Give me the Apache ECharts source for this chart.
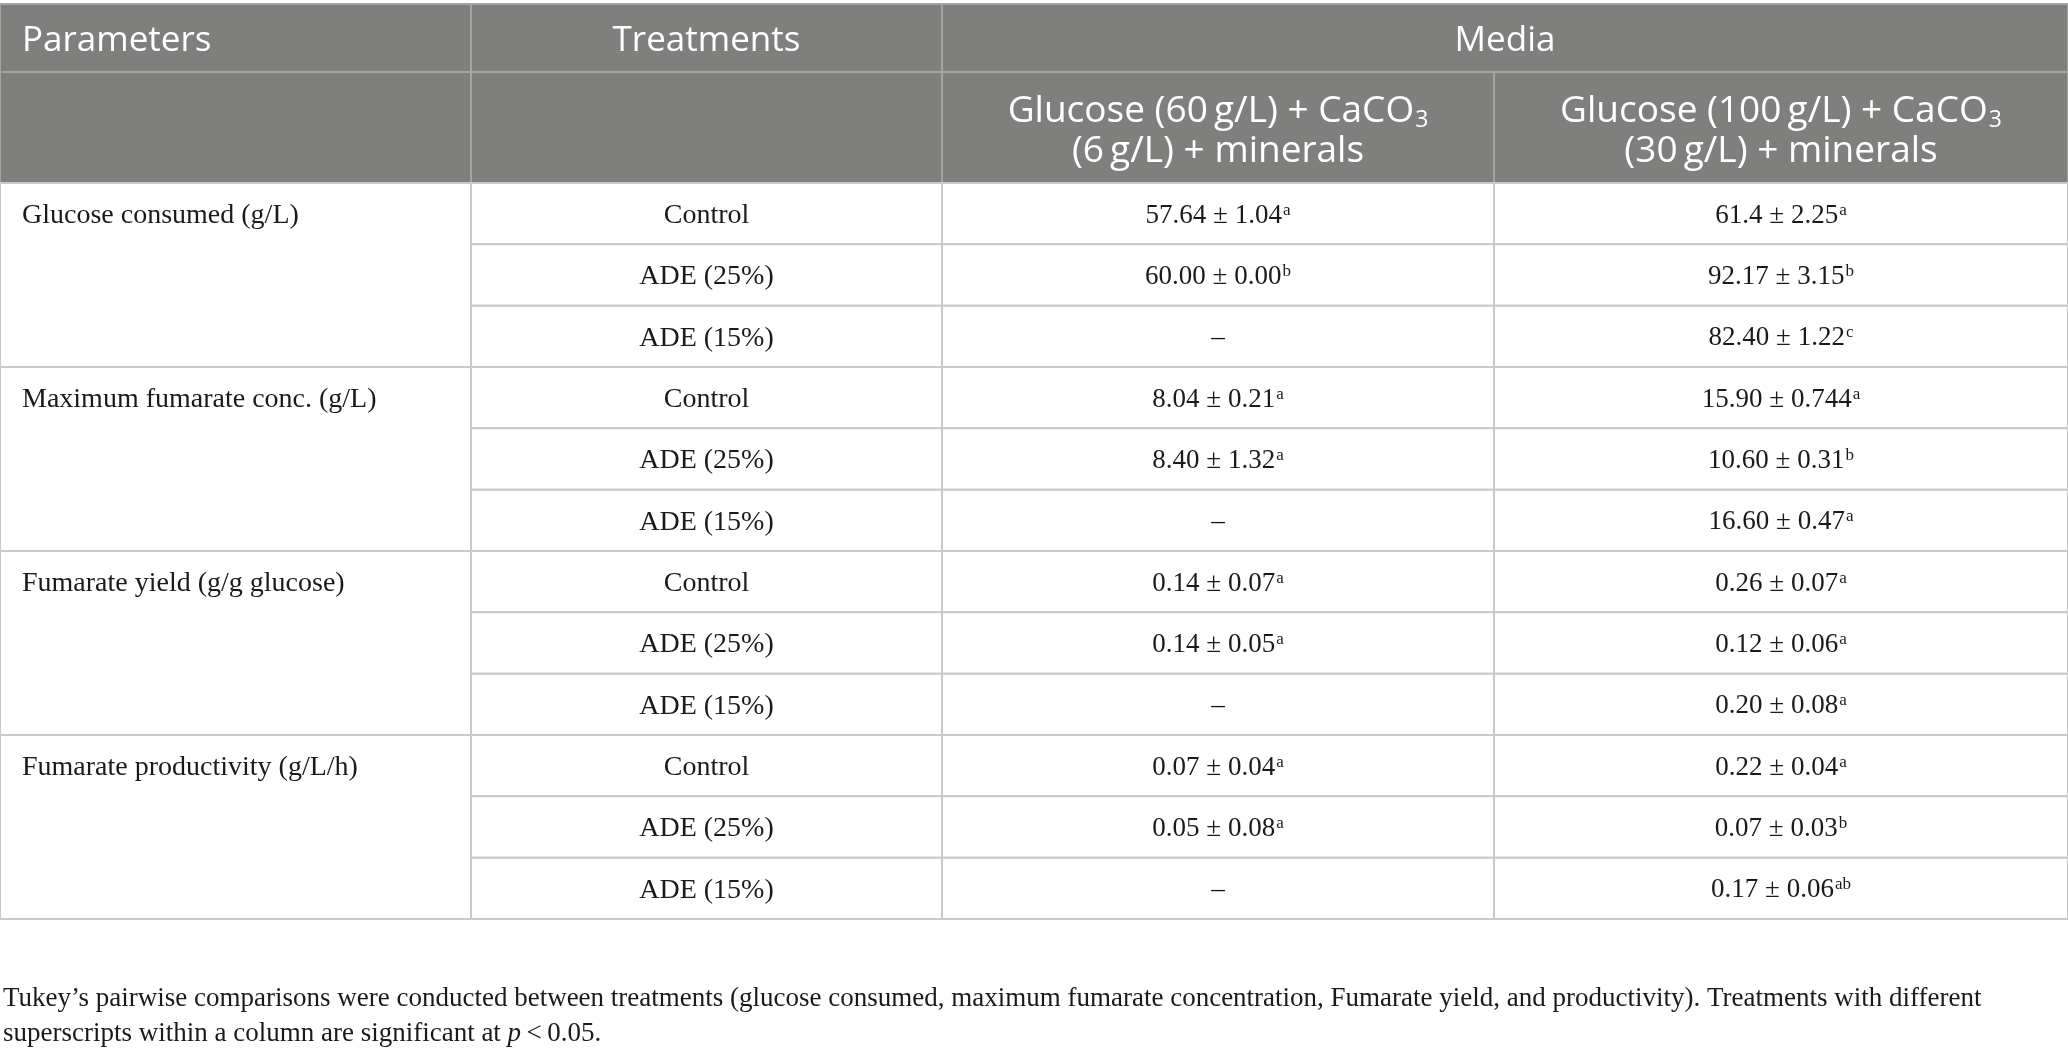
<!DOCTYPE html>
<html>
<head>
<meta charset="utf-8">
<script src="https://cdn.jsdelivr.net/npm/echarts@6/dist/echarts.min.js"></script>
<style>
html,body{margin:0;padding:0;background:#ffffff;}
#chart{width:2068px;height:1059px;}
</style>
</head>
<body>
<div id="chart"></div>
<script>
// ---------------- data ----------------
const columnHeaders = ['Parameters', 'Treatments', 'Media'];
const mediaHeader60 = ['Glucose (60\u2009g/L) + CaCO', '3', '(6\u2009g/L) + minerals'];
const mediaHeader100 = ['Glucose (100\u2009g/L) + CaCO', '3', '(30\u2009g/L) + minerals'];
const parameters = ['Glucose consumed (g/L)', 'Maximum fumarate conc. (g/L)', 'Fumarate yield (g/g glucose)', 'Fumarate productivity (g/L/h)'];
const treatments = ['Control', 'ADE (25%)', 'ADE (15%)'];
// Glucose (60 g/L) + CaCO3 (6 g/L) + minerals
const mean60 = ['57.64', '60.00', null, '8.04', '8.40', null, '0.14', '0.14', null, '0.07', '0.05', null];
const sd60   = ['1.04', '0.00', null, '0.21', '1.32', null, '0.07', '0.05', null, '0.04', '0.08', null];
const sup60  = ['a', 'b', null, 'a', 'a', null, 'a', 'a', null, 'a', 'a', null];
// Glucose (100 g/L) + CaCO3 (30 g/L) + minerals
const mean100 = ['61.4', '92.17', '82.40', '15.90', '10.60', '16.60', '0.26', '0.12', '0.20', '0.22', '0.07', '0.17'];
const sd100   = ['2.25', '3.15', '1.22', '0.744', '0.31', '0.47', '0.07', '0.06', '0.08', '0.04', '0.03', '0.06'];
const sup100  = ['a', 'b', 'c', 'a', 'b', 'a', 'a', 'a', 'a', 'a', 'b', 'ab'];
const missingMark = '\u2013';
const footnoteLine1 = 'Tukey\u2019s pairwise comparisons were conducted between treatments (glucose consumed, maximum fumarate concentration, Fumarate yield, and productivity). Treatments with different';
const footnoteLine2a = 'superscripts within a column are significant at ';
const footnoteLine2p = 'p';
const footnoteLine2b = '\u2009<\u20090.05.';

// ---------------- layout / style ----------------
const COL_EDGES = [0, 471, 942, 1494, 2068];
const HEAD_EDGES = [4, 72, 183];
const BODY_BOTTOM = 919;
const N_ROWS = treatments.length * parameters.length;
const ROW_H = (BODY_BOTTOM - HEAD_EDGES[2]) / N_ROWS;
function rowEdge(k) {
  if (k === -2) return HEAD_EDGES[0];
  if (k === -1) return HEAD_EDGES[1];
  return HEAD_EDGES[2] + k * ROW_H;
}
const HEAD_BG = '#7f807e';
const HEAD_LINE = '#a4a5a3';
const BODY_LINE = '#c9c9c9';
const TEXT_COLOR = '#1a1a1a';
const PAD_LEFT = 22;
const HEAD1_SHIFT = 3;
const HEAD2_SHIFT = 4;
const BODY_SHIFT = 2;
const SANS = '"Open Sans", "Noto Sans", sans-serif';
const SERIF = '"Liberation Serif", "DejaVu Serif", serif';

const rich = {
  h1:  { fontFamily: SANS, fontSize: 35, fill: '#ffffff', lineHeight: 43 },
  h:   { fontFamily: SANS, fontSize: 37, fill: '#ffffff', lineHeight: 40 },
  sub: { fontFamily: SANS, fontSize: 23, fill: '#ffffff', lineHeight: 23, verticalAlign: 'bottom', padding: [0, 0, 0, 1] },
  b:   { fontFamily: SERIF, fontSize: 28, fill: TEXT_COLOR, lineHeight: 34 },
  n:   { fontFamily: SERIF, fontSize: 27, fill: TEXT_COLOR, lineHeight: 34 },
  sup: { fontFamily: SERIF, fontSize: 17, fill: TEXT_COLOR, lineHeight: 17, verticalAlign: 'top', padding: [3, 0, 0, 1] }
};

function fmt(m, s, sp) {
  if (m === null) return '{n|' + missingMark + '}';
  return '{n|' + m + ' \u00b1 ' + s + '}{sup|' + sp + '}';
}

// ---------------- build cells ----------------
const cells = [];
cells.push({ value: [0, 1, -2, -1], kind: 'headL', text: '{h1|' + columnHeaders[0] + '}' });
cells.push({ value: [1, 2, -2, -1], kind: 'head1', text: '{h1|' + columnHeaders[1] + '}' });
cells.push({ value: [2, 4, -2, -1], kind: 'head1', text: '{h1|' + columnHeaders[2] + '}' });
cells.push({ value: [0, 1, -1, 0], kind: 'head', text: '' });
cells.push({ value: [1, 2, -1, 0], kind: 'head', text: '' });
cells.push({ value: [2, 3, -1, 0], kind: 'head', text: '{h|' + mediaHeader60[0] + '}{sub|' + mediaHeader60[1] + '}\n{h|' + mediaHeader60[2] + '}' });
cells.push({ value: [3, 4, -1, 0], kind: 'head', text: '{h|' + mediaHeader100[0] + '}{sub|' + mediaHeader100[1] + '}\n{h|' + mediaHeader100[2] + '}' });
parameters.forEach(function (p, g) {
  const r0 = g * treatments.length;
  cells.push({ value: [0, 1, r0, r0 + treatments.length], kind: 'param', text: '{b|' + p + '}' });
  treatments.forEach(function (t, k) {
    const r = r0 + k;
    cells.push({ value: [1, 2, r, r + 1], kind: 'body', text: '{b|' + t + '}' });
    cells.push({ value: [2, 3, r, r + 1], kind: 'body', text: fmt(mean60[r], sd60[r], sup60[r]) });
    cells.push({ value: [3, 4, r, r + 1], kind: 'body', text: fmt(mean100[r], sd100[r], sup100[r]) });
  });
});

const chart = echarts.init(document.getElementById('chart'), null, { renderer: 'canvas' });
chart.setOption({
  animation: false,
  backgroundColor: '#ffffff',
  title: {
    left: 3,
    top: 981,
    padding: 0,
    text: '{n|' + footnoteLine1 + '}\n{n|' + footnoteLine2a + '}{i|' + footnoteLine2p + '}{n|' + footnoteLine2b + '}',
    textStyle: {
      fontFamily: SERIF, fontSize: 27, color: TEXT_COLOR, lineHeight: 35, fontWeight: 'normal',
      rich: {
        n: { fontFamily: SERIF, fontSize: 27, color: TEXT_COLOR, lineHeight: 35, fontWeight: 'normal' },
        i: { fontFamily: SERIF, fontSize: 27, color: TEXT_COLOR, lineHeight: 35, fontStyle: 'italic', fontWeight: 'normal' }
      }
    }
  },
  grid: { left: 0, right: 0, top: 0, bottom: 0, containLabel: false },
  xAxis: { type: 'value', min: 0, max: 2068, show: false },
  yAxis: { type: 'value', min: 0, max: 1059, inverse: true, show: false },
  series: [{
    type: 'custom',
    coordinateSystem: 'cartesian2d',
    clip: false,
    silent: true,
    data: cells.map(function (c) { return c.value; }),
    renderItem: function (params, api) {
      const cell = cells[params.dataIndex];
      const c0 = api.value(0), c1 = api.value(1), r0 = api.value(2), r1 = api.value(3);
      const tl = api.coord([COL_EDGES[c0], rowEdge(r0)]);
      const br = api.coord([COL_EDGES[c1], rowEdge(r1)]);
      const isHead = cell.kind === 'head' || cell.kind === 'headL' || cell.kind === 'head1';
      const children = [{
        type: 'rect',
        shape: { x: tl[0], y: tl[1], width: br[0] - tl[0], height: br[1] - tl[1] },
        style: { fill: isHead ? HEAD_BG : '#ffffff', stroke: isHead ? HEAD_LINE : BODY_LINE, lineWidth: 2 }
      }];
      if (cell.text) {
        let tx, ty, align = 'center';
        if (cell.kind === 'headL') {
          tx = tl[0] + PAD_LEFT; ty = (tl[1] + br[1]) / 2 + HEAD1_SHIFT; align = 'left';
        } else if (cell.kind === 'head1') {
          tx = (tl[0] + br[0]) / 2; ty = (tl[1] + br[1]) / 2 + HEAD1_SHIFT;
        } else if (cell.kind === 'head') {
          tx = (tl[0] + br[0]) / 2; ty = (tl[1] + br[1]) / 2 + HEAD2_SHIFT;
        } else if (cell.kind === 'param') {
          tx = tl[0] + PAD_LEFT;
          ty = api.coord([0, (rowEdge(r0) + rowEdge(r0 + 1)) / 2])[1] + BODY_SHIFT;
          align = 'left';
        } else {
          tx = (tl[0] + br[0]) / 2; ty = (tl[1] + br[1]) / 2 + BODY_SHIFT;
        }
        children.push({
          type: 'text',
          style: { text: cell.text, x: tx, y: ty, align: align, verticalAlign: 'middle', rich: rich }
        });
      }
      return { type: 'group', children: children };
    }
  }]
});
</script>
</body>
</html>
